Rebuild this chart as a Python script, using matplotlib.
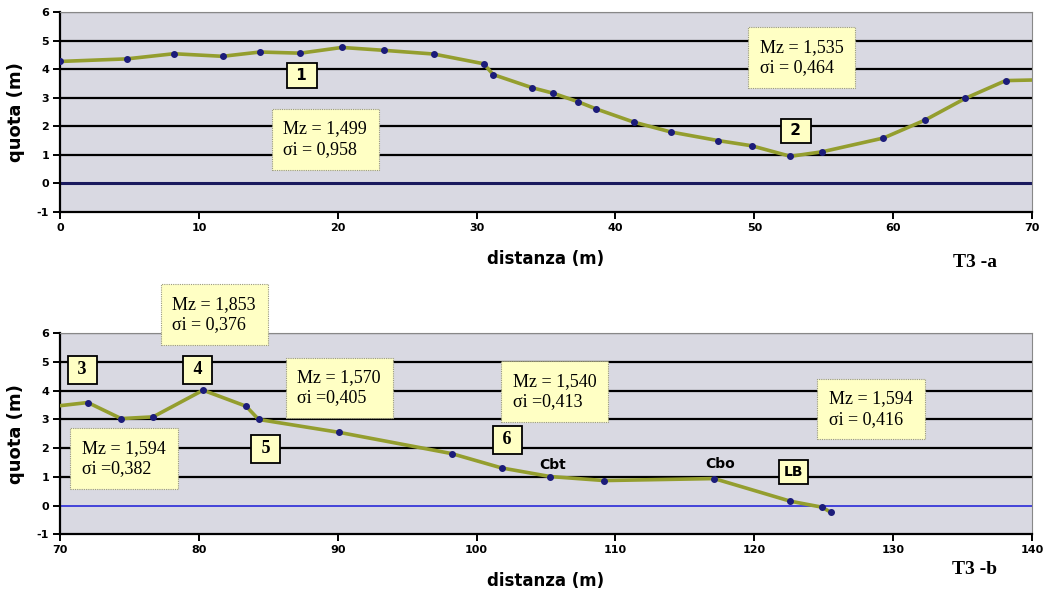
import matplotlib
matplotlib.use("Agg")
import matplotlib.pyplot as plt

plt.rcParams["axes.unicode_minus"] = False

# T3 - a
dist_a = [0, 4.8, 8.2, 11.7, 14.4, 17.3, 20.3, 23.3, 26.9, 30.5, 31.2, 34.0, 35.5,
          37.3, 38.6, 41.3, 44.0, 47.4, 49.8, 52.6, 54.9, 59.3, 62.3, 65.2, 68.1, 70]
quota_a = [4.27, 4.36, 4.54, 4.45, 4.60, 4.56, 4.76, 4.66, 4.53, 4.19, 3.81, 3.35, 3.16,
           2.86, 2.61, 2.15, 1.80, 1.50, 1.32, 0.95, 1.11, 1.59, 2.22, 2.98, 3.60, 3.62]

# T3 - b
dist_b = [70, 72.0, 74.4, 76.7, 80.3, 83.4, 84.3, 90.1, 98.2, 101.8, 105.3, 109.2,
          117.1, 122.6, 124.9, 125.5]
quota_b = [3.48, 3.59, 3.03, 3.09, 4.02, 3.46, 3.00, 2.55, 1.81, 1.31, 1.01, 0.87,
           0.94, 0.15, -0.06, -0.24]

stats_a = [("Mz = 1,499\nσi = 0,958", 19.1, 1.55), ("Mz = 1,535\nσi = 0,464", 53.4, 4.41)]
tags_a = [("1", 17.4, 3.78), ("2", 53.0, 1.85)]

stats_b = [("Mz = 1,853\nσi = 0,376", 81.1, 6.65), ("Mz = 1,570\nσi =0,405", 90.1, 4.10),
           ("Mz = 1,594\nσi =0,382", 74.6, 1.63), ("Mz = 1,540\nσi =0,413", 105.6, 3.97),
           ("Mz = 1,594\nσi = 0,416", 128.4, 3.36)]
tags_b = [("3", 71.6, 4.73), ("4", 79.9, 4.73), ("5", 84.8, 1.98), ("6", 102.2, 2.29),
          ("LB", 122.8, 1.18)]
points_b = [("Cbt", 105.5, 1.40), ("Cbo", 117.55, 1.44)]

BG = "#d9d9e2"
LINE = "#949e2e"
MARK = "#1c1c7a"


def style_axes(ax, xlim, zero_color, zero_lw):
    ax.set_facecolor(BG)
    ax.set_xlim(*xlim)
    ax.set_ylim(-1, 6)
    ax.set_yticks(range(-1, 7))
    ax.set_xticks(range(xlim[0], xlim[1] + 1, 10))
    for y in range(1, 6):
        ax.axhline(y, color="black", lw=1.6, zorder=1)
    ax.axhline(6, color="#888888", lw=1.0, zorder=1)
    ax.axhline(0, color=zero_color, lw=zero_lw, zorder=1)
    for s in ["top", "right"]:
        ax.spines[s].set_color("#888888")
        ax.spines[s].set_linewidth(0.8)
    for s in ["left", "bottom"]:
        ax.spines[s].set_color("black")
        ax.spines[s].set_linewidth(1.6)
    ax.tick_params(direction="out", length=5, width=1.4, labelsize=8, pad=3)
    for lab in ax.get_xticklabels() + ax.get_yticklabels():
        lab.set_fontweight("bold")
    ax.set_ylabel("quota (m)", fontsize=13, fontweight="bold", labelpad=8)
    ax.set_xlabel("distanza (m)", fontsize=12, fontweight="bold", labelpad=12)


def stat_box(ax, txt, x, y):
    ax.text(x, y, txt, ha="center", va="center", multialignment="left",
            family="Liberation Serif", fontsize=13, zorder=5, linespacing=1.25,
            bbox=dict(boxstyle="square,pad=0.65", fc="#ffffc4", ec="#9a9a80",
                      lw=0.8, ls=(0, (1, 1))))


def tag_box(ax, txt, x, y, fam, size=12, pad=0.3):
    ax.text(x, y, txt, ha="center", va="center", family=fam, fontweight="bold",
            fontsize=size, zorder=5,
            bbox=dict(boxstyle="square,pad=%s" % pad, fc="#ffffc4", ec="black", lw=1.3))


fig = plt.figure(figsize=(10.48, 5.89), dpi=100)
ax1 = fig.add_axes([0.0573, 0.640, 0.9275, 0.3396])
ax2 = fig.add_axes([0.0573, 0.093, 0.9275, 0.341])

style_axes(ax1, (0, 70), "#1a1a5e", 2.2)
ax1.plot(dist_a, quota_a, color=LINE, lw=2.6, zorder=3,
         marker="o", ms=4, mfc=MARK, mec=MARK, markevery=slice(0, len(dist_a) - 1))
for txt, x, y in stats_a:
    stat_box(ax1, txt, x, y)
for txt, x, y in tags_a:
    tag_box(ax1, " %s " % txt, x, y, "DejaVu Sans", size=11, pad=0.3)
fig.text(0.93, 0.555, "T3 -a", family="Liberation Serif", fontweight="bold",
         fontsize=14, ha="center", va="center")

style_axes(ax2, (70, 140), "#2a2ad8", 1.2)
ax2.plot(dist_b, quota_b, color=LINE, lw=2.6, zorder=3,
         marker="o", ms=4, mfc=MARK, mec=MARK, markevery=slice(1, None))
for txt, x, y in stats_b:
    stat_box(ax2, txt, x, y)
for txt, x, y in tags_b:
    if txt == "LB":
        tag_box(ax2, txt, x, y, "DejaVu Sans", size=10, pad=0.35)
    else:
        tag_box(ax2, " %s " % txt, x, y, "Liberation Serif", size=13, pad=0.3)
for txt, x, y in points_b:
    ax2.text(x, y, txt, ha="center", va="center", fontsize=10, fontweight="bold",
             family="DejaVu Sans", zorder=5)
fig.text(0.93, 0.018, "T3 -b", family="Liberation Serif", fontweight="bold",
         fontsize=14, ha="center", va="bottom")

fig.savefig("out.png", dpi=100)
